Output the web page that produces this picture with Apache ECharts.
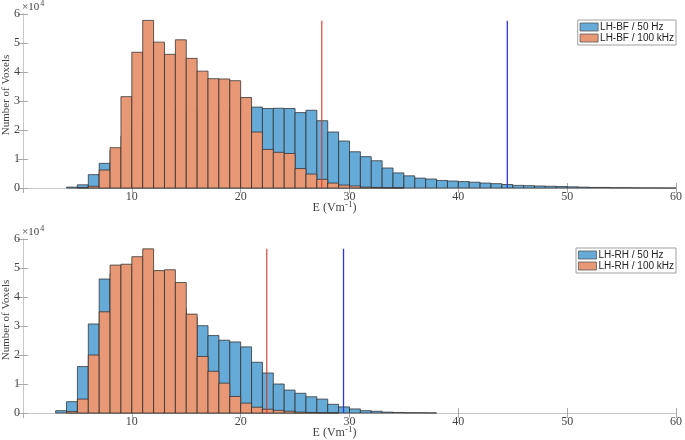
<!DOCTYPE html>
<html>
<head>
<meta charset="utf-8">
<script src="https://cdn.jsdelivr.net/npm/echarts@6/dist/echarts.min.js"></script>
<style>
  html, body { margin: 0; padding: 0; background: #fff; }
  #chart { width: 685px; height: 440px; }
</style>
</head>
<body>
<div id="chart"></div>
<script>
// left edge of each 1 V/m histogram bin
const binLeft = [3, 4, 5, 6, 7, 8, 9, 10, 11, 12, 13, 14, 15, 16, 17, 18, 19, 20, 21, 22, 23, 24, 25, 26, 27, 28, 29, 30,
  31, 32, 33, 34, 35, 36, 37, 38, 39, 40, 41, 42, 43, 44, 45, 46, 47, 48, 49, 50, 51, 52, 53, 54, 55, 56, 57, 58, 59];
const binWidth = 1;

// LH-BF (top panel)
const bf50 = [0, 300, 1100, 4600, 8500, 13000, 18000, 22000, 25000, 26000, 27000, 27500, 27500, 27500, 27500, 27500, 27500, 27800,
  27900, 27400, 27500, 27400, 26000, 26800, 23200, 19300, 16200, 12500, 10800, 9400, 6900, 5200, 4200, 3400, 3100, 2600,
  2400, 2200, 2000, 1700, 1500, 1200, 900, 800, 700, 600, 500, 400, 300, 200, 200, 100, 100, 50, 30, 20, 10];
const bf100 = [0, 0, 100, 600, 6200, 13900, 31500, 46800, 57800, 50300, 46100, 51100, 44700, 40300, 37700, 37600, 37000, 31200,
  19300, 13300, 12300, 11900, 6700, 4800, 3000, 1700, 1000, 700, 300, 200, 100, 50, 0, 0, 0, 0,
  0, 0, 0, 0, 0, 0, 0, 0, 0, 0, 0, 0, 0, 0, 0, 0, 0, 0, 0, 0, 0];

// LH-RH (bottom panel)
const rh50 = [800, 3900, 16000, 30700, 46200, 48000, 47000, 45000, 42000, 40000, 38000, 36000, 33000, 30100, 26700, 25100, 24500, 22800,
  17500, 13800, 10000, 7900, 6800, 5600, 4800, 3000, 2100, 1400, 800, 600, 300, 200, 100, 100, 50, 0,
  0, 0, 0, 0, 0, 0, 0, 0, 0, 0, 0, 0, 0, 0, 0, 0, 0, 0, 0, 0, 0];
const rh100 = [0, 500, 4800, 20000, 34900, 51000, 51300, 53900, 56600, 49100, 49400, 45000, 34100, 19500, 14400, 10300, 5700, 3400,
  2000, 1300, 900, 600, 300, 200, 100, 50, 0, 0, 0, 0, 0, 0, 0, 0, 0, 0,
  0, 0, 0, 0, 0, 0, 0, 0, 0, 0, 0, 0, 0, 0, 0, 0, 0, 0, 0, 0, 0];

// vertical marker lines: [E position, height]
const bfMarkers = { red: [27.45, 57700], blue: [44.5, 57700] };
const rhMarkers = { red: [22.4, 56600], blue: [29.45, 56600] };

const xTicks = [0, 60, 10];
const yTicks = [0, 60000, 10000];

const blueFill = "#66aad7";
const orangeFill = "#e89875";
const serif = "Liberation Serif";
const sans = "Liberation Sans";

const chartDom = document.getElementById("chart");
const myChart = echarts.init(chartDom);

function renderBin(params, api) {
  const x0 = api.value(0);
  const v = api.value(1);
  if (!v) return;
  const p0 = api.coord([x0, v]);
  const p1 = api.coord([x0 + binWidth, 0]);
  return {
    type: "rect",
    shape: { x: p0[0], y: p0[1], width: p1[0] - p0[0], height: p1[1] - p0[1] },
    style: api.style({ stroke: "rgba(45,45,45,0.75)", lineWidth: 1 }),
  };
}

function pair(values) {
  return binLeft.map((x, i) => [x, values[i]]);
}

const grids = [
  { left: 23, right: 9, top: 14, height: 174, outerBoundsMode: "none", containLabel: false },
  { left: 23, right: 9, top: 239, height: 174, outerBoundsMode: "none", containLabel: false },
];

const xAxes = [];
const yAxes = [];
grids.forEach((g, i) => {
  xAxes.push({
    type: "value", gridIndex: i, min: xTicks[0], max: xTicks[1], interval: xTicks[2],
    axisLine: { lineStyle: { color: "#aaaaaa" } },
    axisTick: { inside: true, length: 5, lineStyle: { color: "#aaaaaa" } },
    axisLabel: { showMinLabel: false, color: "#444", fontFamily: serif, fontSize: 12, margin: 3 },
    splitLine: { show: false },
    name: "E (Vm{sup|-1})",
    nameLocation: "middle",
    nameGap: 12,
    nameMoveOverlap: false,
    nameTextStyle: {
      color: "#444", fontFamily: serif, fontSize: 12, padding: [0, 30, 0, 0], verticalAlign: "top",
      rich: { sup: { fontFamily: serif, fontSize: 9, verticalAlign: "top", padding: [0, 0, 6, 0], color: "#444" } },
    },
  });
  xAxes.push({
    type: "value", gridIndex: i, position: "top", min: xTicks[0], max: xTicks[1], interval: xTicks[2],
    axisLine: { lineStyle: { color: "#c8c8c8" } },
    axisTick: { inside: true, length: 5, lineStyle: { color: "#aaaaaa" } },
    axisLabel: { show: false },
    splitLine: { show: false },
  });
  yAxes.push({
    type: "value", gridIndex: i, min: yTicks[0], max: yTicks[1], interval: yTicks[2],
    axisLine: { show: true, lineStyle: { color: "#aaaaaa" } },
    axisTick: { show: true, inside: true, length: 5, lineStyle: { color: "#aaaaaa" } },
    axisLabel: { color: "#444", fontFamily: serif, fontSize: 12, margin: 3, formatter: (v) => String(v / 10000) },
    splitLine: { show: false },
    name: "Number of Voxels",
    nameLocation: "middle",
    nameGap: 11,
    nameMoveOverlap: false,
    nameTextStyle: { color: "#444", fontFamily: serif, fontSize: 11, padding: [0, 0, 0, 12] },
  });
  yAxes.push({
    type: "value", gridIndex: i, position: "right", min: yTicks[0], max: yTicks[1], interval: yTicks[2],
    axisLine: { show: true, lineStyle: { color: "#c8c8c8" } },
    axisTick: { show: true, inside: true, length: 5, lineStyle: { color: "#aaaaaa" } },
    axisLabel: { show: false },
    splitLine: { show: false },
  });
});

function histSeries(name, values, color, panel) {
  return {
    name: name, type: "custom", renderItem: renderBin,
    xAxisIndex: panel * 2, yAxisIndex: panel * 2,
    itemStyle: { color: color },
    encode: { x: 0, y: 1 },
    data: pair(values),
    z: 2,
  };
}

function markerSeries(m, color, panel) {
  return {
    type: "line", xAxisIndex: panel * 2, yAxisIndex: panel * 2,
    showSymbol: false, symbol: "none", silent: true,
    lineStyle: { color: color, width: 1.3 },
    data: [[m[0], 0], [m[0], m[1]]],
    z: 5,
  };
}

const legendBase = {
  orient: "vertical", right: 9, itemWidth: 18, itemHeight: 8, itemGap: 1,
  icon: "rect", backgroundColor: "#fff", borderColor: "#a0a0a0", borderWidth: 1,
  padding: [2, 2, 2, 2],
  itemStyle: { borderColor: "#555", borderWidth: 0.8 },
  textStyle: { fontFamily: sans, fontSize: 10, color: "#222", padding: [0, 0, 0, -3] },
};

const supText = (top) => ({
  type: "text", left: 22, top: top,
  style: {
    text: "{a|×10}{b|4}",
    rich: {
      a: { fontFamily: serif, fontSize: 11, fill: "#444" },
      b: { fontFamily: serif, fontSize: 8, fill: "#444", verticalAlign: "top", padding: [0, 0, 6, 1] },
    },
  },
});

let option = {
  animation: false,
  grid: grids,
  xAxis: xAxes,
  yAxis: yAxes,
  legend: [
    Object.assign({}, legendBase, { top: 20, data: ["LH-BF / 50 Hz", "LH-BF / 100 kHz"] }),
    Object.assign({}, legendBase, { top: 248, data: ["LH-RH / 50 Hz", "LH-RH / 100 kHz"] }),
  ],
  graphic: [supText(0), supText(225)],
  series: [
    histSeries("LH-BF / 50 Hz", bf50, blueFill, 0),
    histSeries("LH-BF / 100 kHz", bf100, orangeFill, 0),
    markerSeries(bfMarkers.red, "rgba(205,60,45,0.85)", 0),
    markerSeries(bfMarkers.blue, "#2a3acb", 0),
    histSeries("LH-RH / 50 Hz", rh50, blueFill, 1),
    histSeries("LH-RH / 100 kHz", rh100, orangeFill, 1),
    markerSeries(rhMarkers.red, "rgba(205,60,45,0.85)", 1),
    markerSeries(rhMarkers.blue, "#2a3acb", 1),
  ],
};

myChart.setOption(option);
</script>
</body>
</html>
